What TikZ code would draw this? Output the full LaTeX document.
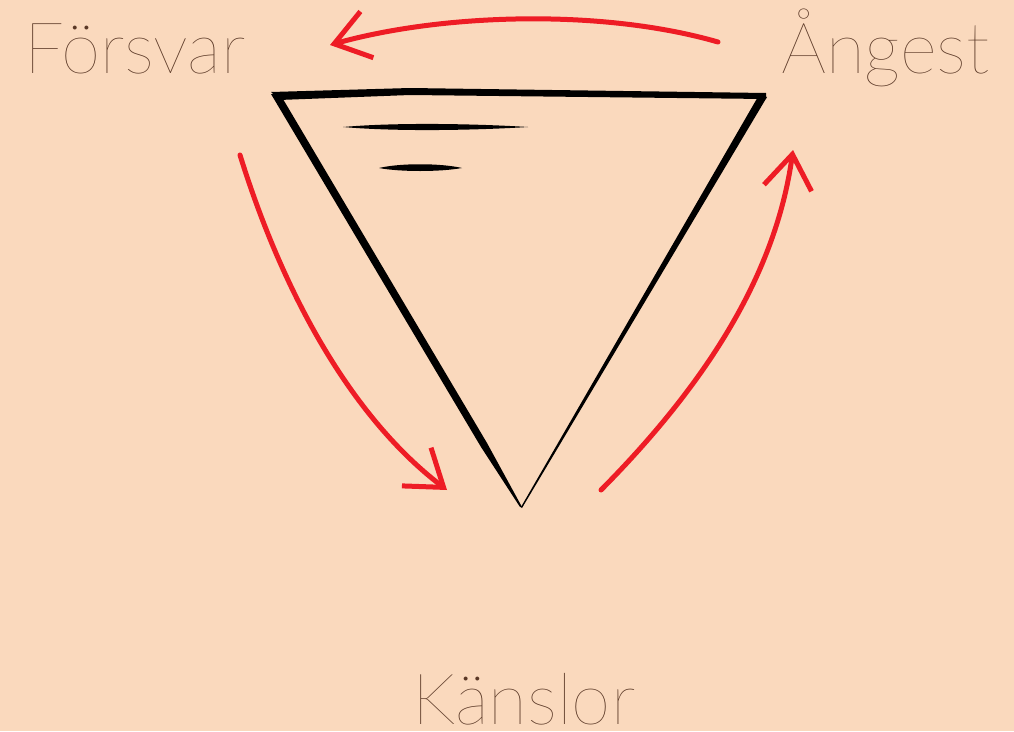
\documentclass[tikz,border=0pt]{standalone}
\usepackage{fontspec}
\IfFontExistsTF{Lato-Hairline.ttf}{\setmainfont{Lato-Hairline.ttf}}{%
  \IfFontExistsTF{Lato-Light.ttf}{\setmainfont{Lato-Light.ttf}}{%
    \IfFontExistsTF{Lato Light}{\setmainfont{Lato Light}}{\setmainfont{Lato}}}}
\usetikzlibrary{arrows.meta}
\definecolor{peach}{HTML}{FAD9BD}
\definecolor{pen}{HTML}{EE1C25}
\definecolor{ink}{HTML}{5A3826}
\tikzset{
  word/.style={font=\fontsize{71}{71}\selectfont, text=ink, inner sep=0pt, text depth=0pt, anchor=base west},
  loop/.style={pen, line width=5pt, line cap=round, -{Straight Barb[length=34pt,width=48pt,line width=5pt]}},
}

\begin{document}
\begin{tikzpicture}[x=1pt,y=-1pt]
\useasboundingbox (0,0) rectangle (1014,731);
\fill[peach] (0,0) rectangle (1014,731);
\node[word] (forsvar) at (24,73) {Försvar};
\node[word] (angest) at (781,73) {Ångest};
\node[word] (kanslor) at (412,724) {Känslor};
% triangle
\coordinate (tl) at (275,96);
\coordinate (tr) at (763,96);
\coordinate (bot) at (521,507);
\fill[black] (271,92) -- (410,88) -- (766,93) -- (766,99) -- (410,95) -- (279,100) -- cycle;
\fill[black] (271,94) -- (280,94) -- (487,443) -- (522,507) -- (520,507) -- (481,447) -- cycle;
\fill[black] (759,95) -- (767,97) -- (522,508) -- (521,507) -- cycle;
\fill[black] (343,127) .. controls (400,122) and (480,124) .. (528,127) .. controls (480,130) and (400,132) .. (343,127) -- cycle;
\fill[black] (379,168) .. controls (400,163) and (440,163) .. (462,168) .. controls (440,172) and (400,172) .. (379,168) -- cycle;
% arrows
\draw[loop] (718,42) .. controls (600,8) and (440,14) .. (330,45);
\draw[loop] (240,155) .. controls (285,300) and (355,420) .. (447,490);
\draw[loop] (601,490) .. controls (700,390) and (775,280) .. (793,150);
\end{tikzpicture}
\end{document}
